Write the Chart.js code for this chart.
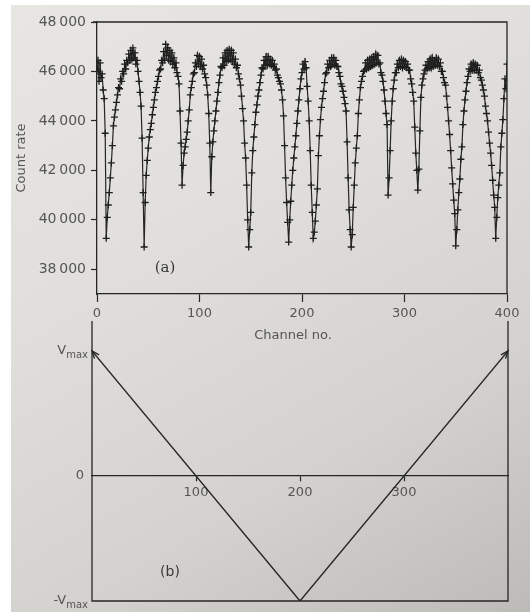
<!DOCTYPE html>
<html>
<head>
<meta charset="utf-8">
<script src="https://cdn.jsdelivr.net/npm/chart.js@4.4.1/dist/chart.umd.min.js"></script>
<style>
  html, body { margin: 0; padding: 0; background: #ffffff; }
  #page {
    position: absolute; left: 11px; top: 5px; width: 519px; height: 607px;
    background: linear-gradient(150deg, #e7e6e3 0%, #e0dfdb 35%, #d4d2ce 70%, #bdbbb7 100%);
  }
  canvas { position: absolute; left: 0; }
  #spectrum { top: 0; }
  #sweep { top: 300px; }
</style>
</head>
<body>
<div id="page"></div>
<canvas id="spectrum" width="530" height="345"></canvas>
<canvas id="sweep" width="530" height="315"></canvas>
<script>
// Counts recorded in each channel (channel number = index, 0..400)
const counts = [
  46000, 46450, 45600, 46350, 45750, 45900, 45250, 44900, 43500, 39250,
  40100, 40600, 41100, 41700, 42300, 43000, 43800, 44150, 44450, 44750,
  45050, 45350, 45300, 45700, 45600, 46000, 45900, 46300, 46100, 46450,
  46350, 46700, 46450, 46850, 46500, 46950, 46550, 46750, 46300, 46450,
  46000, 45600, 45150, 44600, 43300, 41100, 38900, 40700, 41800, 42400,
  42900, 43350, 43650, 43900, 44250, 44550, 44850, 45150, 45350, 45600,
  45800, 46050, 46100, 46450, 46350, 46800, 46500, 47100, 46650, 46950,
  46450, 46850, 46400, 46750, 46300, 46550, 46150, 46350, 45950, 45800,
  45500, 44400, 43100, 41400, 42200, 42700, 42950, 43250, 43550, 44000,
  44450, 45050, 45350, 45600, 45900, 45950, 46350, 46200, 46650, 46300,
  46600, 46200, 46500, 46100, 46250, 45900, 45750, 45450, 45050, 44300,
  43100, 41100, 42550, 43150, 43600, 44000, 44400, 44800, 45150, 45550,
  45850, 46200, 46150, 46550, 46250, 46750, 46400, 46850, 46450, 46900,
  46500, 46850, 46400, 46750, 46300, 46500, 46150, 46250, 45900, 45700,
  45450, 45000, 44500, 44000, 43100, 42500, 41400, 40000, 38900, 39600,
  40300, 41900, 42800, 43350, 43850, 44350, 44650, 45000, 45250, 45550,
  45850, 46150, 46100, 46450, 46250, 46600, 46250, 46600, 46300, 46500,
  46250, 46450, 46200, 46300, 46050, 46100, 45850, 45750, 45600, 45500,
  45250, 44850, 44200, 43000, 41700, 40700, 39900, 39100, 40000, 40750,
  41400, 42000, 42500, 42950, 43400, 43900, 44400, 44850, 45300, 45700,
  45950, 46300, 46100, 46400, 46150, 45400, 44800, 44000, 42800, 41400,
  40300, 39250, 39500, 39950, 40600, 41250, 42600, 43400, 44050, 44550,
  44900, 45200, 45550, 45900, 45950, 46300, 46150, 46450, 46200, 46550,
  46300, 46550, 46250, 46450, 46200, 46200, 45950, 45800, 45500, 45400,
  45200, 44950, 44700, 44400, 43150, 41700, 40400, 39600, 38900, 39400,
  40500, 41400, 42300, 42900, 43400, 44300, 44850, 45350, 45600, 45800,
  46000, 46050, 46350, 46100, 46450, 46150, 46500, 46200, 46550, 46250,
  46600, 46300, 46700, 46350, 46650, 46300, 46350, 45950, 45850, 45600,
  45250, 44800, 44300, 43850, 41000, 41700, 42800, 44000, 44800, 45300,
  45650, 45950, 45950, 46300, 46150, 46450, 46200, 46500, 46150, 46450,
  46200, 46400, 46150, 46300, 46050, 46050, 45700, 45500, 45150, 44800,
  43750, 42700, 42000, 41200, 42050, 43600, 44950, 45450, 45700, 45900,
  46050, 46250, 46100, 46400, 46150, 46500, 46150, 46550, 46200, 46450,
  46250, 46550, 46250, 46500, 46200, 46350, 46000, 46000, 45750, 45550,
  45450, 45000, 44550, 44000, 43450, 42800, 42100, 41450, 40800, 40250,
  38950, 39600, 40400, 41100, 41650, 42450, 42950, 43850, 44400, 44850,
  45200, 45550, 45800, 46100, 46000, 46300, 46050, 46350, 46050, 46300,
  46050, 46250, 45950, 46050, 45750, 45650, 45450, 45250, 45000, 44600,
  44300, 44000, 43550, 43100, 42700, 42200, 41600, 41000, 40500, 39250,
  40100, 40900, 41400, 41900, 42950, 43500, 44050, 44900, 45700, 45300,
  46300
];

const countTicks = [38000, 40000, 42000, 44000, 46000, 48000];
const channelTicks = [0, 100, 200, 300, 400];

// Velocity sweep of the drive: one full triangle over the 400 channels
const sweepChannels = [0, 200, 400];
const sweepVelocity = [1, -1, 1];
const sweepTicks = [100, 200, 300];
const velocityLabels = [
  { value: 1, main: 'V', sub: 'max' },
  { value: 0, main: '0', sub: '' },
  { value: -1, main: '-V', sub: 'max' }
];

const INK = '#262626';
const TEXT = '#555555';
const SANS = '"DejaVu Sans", sans-serif';

const formatCount = v => {
  const s = String(v);
  return s.slice(0, s.length - 3) + '\u2009' + s.slice(s.length - 3);
};

// Closes the box of the spectrum panel, writes its panel letter and axis title
const spectrumFrame = {
  id: 'spectrumFrame',
  afterDraw(chart) {
    const { ctx, chartArea: a } = chart;
    ctx.save();
    ctx.strokeStyle = INK;
    ctx.lineWidth = 1.3;
    ctx.beginPath();
    ctx.moveTo(a.left - 4, a.top);
    ctx.lineTo(a.right, a.top);
    ctx.lineTo(a.right, a.bottom);
    ctx.stroke();
    ctx.fillStyle = '#3a3a3a';
    ctx.font = '15px "DejaVu Serif", serif';
    ctx.textAlign = 'center';
    ctx.textBaseline = 'middle';
    ctx.fillText('(a)', a.left + 68, a.bottom - 26);
    ctx.fillStyle = TEXT;
    ctx.font = '13px ' + SANS;
    ctx.fillText('Channel no.', (a.left + a.right) / 2 - 9, a.bottom + 42);
    ctx.restore();
  }
};

new Chart(document.getElementById('spectrum'), {
  type: 'line',
  data: {
    datasets: [{
      data: counts.map((v, i) => ({ x: i, y: v })),
      borderColor: INK,
      borderWidth: 1.2,
      pointStyle: 'cross',
      pointRadius: 3.5,
      pointBorderWidth: 1.3,
      pointBorderColor: '#1e1e1e',
      tension: 0,
      fill: false
    }]
  },
  options: {
    responsive: false,
    animation: false,
    devicePixelRatio: 1,
    layout: { padding: { top: 22, right: 23, left: 0, bottom: 0 } },
    plugins: { legend: { display: false }, tooltip: { enabled: false } },
    scales: {
      x: {
        type: 'linear',
        min: 0,
        max: 400,
        afterFit(s) { s.height = 51; },
        afterBuildTicks(s) { s.ticks = channelTicks.map(v => ({ value: v })); },
        grid: { drawOnChartArea: false, tickLength: 8, tickColor: INK, tickWidth: 1.2 },
        border: { color: INK, width: 1.3 },
        ticks: { color: TEXT, font: { family: SANS, size: 13 }, padding: 4, maxRotation: 0 }
      },
      y: {
        type: 'linear',
        min: 37000,
        max: 48000,
        afterFit(s) { s.width = 97; },
        afterBuildTicks(s) { s.ticks = countTicks.map(v => ({ value: v })); },
        grid: { drawOnChartArea: false, tickLength: 6, tickColor: INK, tickWidth: 1.2 },
        border: { color: INK, width: 1.3 },
        ticks: { color: TEXT, font: { family: SANS, size: 14 }, padding: 5, callback: formatCount },
        title: {
          display: true, text: 'Count rate', color: TEXT,
          font: { family: SANS, size: 13 }, padding: { top: 14, bottom: 0 }
        }
      }
    }
  },
  plugins: [spectrumFrame]
});

// Frame, velocity labels, arrowheads and panel letter of the sweep panel
const sweepDecor = {
  id: 'sweepDecor',
  afterDraw(chart) {
    const { ctx, chartArea: a } = chart;
    const yScale = chart.scales.y;
    ctx.save();
    ctx.strokeStyle = INK;
    ctx.lineWidth = 1.3;
    ctx.beginPath();
    ctx.moveTo(a.left, a.top);
    ctx.lineTo(a.left, a.bottom);
    ctx.lineTo(a.right, a.bottom);
    ctx.lineTo(a.right, a.top);
    ctx.stroke();

    // arrowheads at both ends of the sweep
    const pts = chart.getDatasetMeta(0).data;
    const arrow = (tip, from) => {
      const ang = Math.atan2(tip.y - from.y, tip.x - from.x);
      const len = 8, spread = 0.38;
      ctx.beginPath();
      ctx.moveTo(tip.x - len * Math.cos(ang - spread), tip.y - len * Math.sin(ang - spread));
      ctx.lineTo(tip.x, tip.y);
      ctx.lineTo(tip.x - len * Math.cos(ang + spread), tip.y - len * Math.sin(ang + spread));
      ctx.stroke();
    };
    ctx.lineWidth = 1.4;
    arrow(pts[0], pts[1]);
    arrow(pts[pts.length - 1], pts[pts.length - 2]);

    // V max / 0 / -V max labels
    ctx.fillStyle = TEXT;
    ctx.textBaseline = 'middle';
    velocityLabels.forEach(l => {
      const y = yScale.getPixelForValue(l.value);
      const end = a.left - 4;
      ctx.font = '10px ' + SANS;
      const subW = l.sub ? ctx.measureText(l.sub).width : 0;
      if (l.sub) {
        ctx.textAlign = 'right';
        ctx.fillText(l.sub, end, y + 4);
      }
      ctx.font = '13px ' + SANS;
      ctx.textAlign = 'right';
      ctx.fillText(l.main, end - subW - (l.sub ? 0 : 4), y);
    });

    ctx.font = '14px ' + SANS;
    ctx.textAlign = 'center';
    ctx.fillStyle = '#3a3a3a';
    ctx.fillText('(b)', a.left + 78, a.bottom - 29);
    ctx.restore();
  }
};

new Chart(document.getElementById('sweep'), {
  type: 'line',
  data: {
    datasets: [{
      data: sweepChannels.map((c, i) => ({ x: c, y: sweepVelocity[i] })),
      borderColor: INK,
      borderWidth: 1.4,
      pointRadius: 0,
      tension: 0,
      fill: false
    }]
  },
  options: {
    responsive: false,
    animation: false,
    devicePixelRatio: 1,
    layout: { padding: { top: 21, right: 22, left: 92, bottom: 14 } },
    plugins: { legend: { display: false }, tooltip: { enabled: false } },
    scales: {
      x: {
        type: 'linear',
        min: 0,
        max: 400,
        position: { y: 0 },
        afterBuildTicks(s) { s.ticks = sweepTicks.map(v => ({ value: v })); },
        grid: { drawOnChartArea: false, tickLength: 5, tickColor: INK, tickWidth: 1.2 },
        border: { color: INK, width: 1.3 },
        ticks: { color: TEXT, font: { family: SANS, size: 13 }, padding: 4, maxRotation: 0 }
      },
      y: {
        type: 'linear',
        min: -1,
        max: 1.24,
        display: false
      }
    }
  },
  plugins: [sweepDecor]
});
</script>
</body>
</html>
